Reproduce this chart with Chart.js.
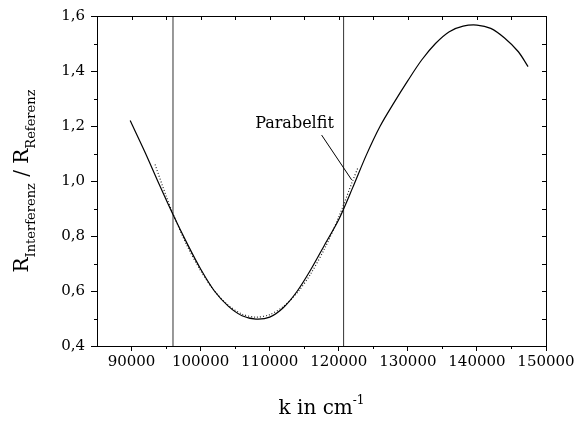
<!DOCTYPE html>
<html>
<head>
<meta charset="utf-8">
<script src="https://cdn.jsdelivr.net/npm/chart.js@4.4.0/dist/chart.umd.min.js"></script>
<style>
    html, body { margin: 0; padding: 0; background: #fff; }
    #wrap { width: 578px; height: 421px; }
</style>
</head>
<body>
<div id="wrap"><canvas id="chart" width="578" height="421"></canvas></div>
<script>
// measured curve R_Interferenz / R_Referenz over k
const kValues = [89800, 92000, 94000, 96000, 98000, 100000, 102000, 104000, 106000, 108000,
    110000, 112000, 114000, 116000, 118000, 120000, 122000, 124000, 126000, 128000,
    130000, 132000, 134000, 136000, 138000, 140000, 142000, 144000, 146000, 147400];
const ratioValues = [1.22, 1.102, 0.988, 0.878, 0.775, 0.68, 0.60, 0.545, 0.51, 0.498,
    0.505, 0.54, 0.60, 0.68, 0.77, 0.86, 0.975, 1.095, 1.20, 1.285,
    1.365, 1.44, 1.50, 1.543, 1.563, 1.567, 1.555, 1.52, 1.47, 1.416];

// parabola fit (dotted)
const fitK = [93400, 95000, 96000, 98000, 100000, 102000, 104000, 106000, 108000,
    110000, 112000, 114000, 116000, 118000, 120000, 122000, 122800];
const fitValues = [1.06, 0.946, 0.881, 0.767, 0.674, 0.60, 0.548, 0.516, 0.505,
    0.514, 0.544, 0.594, 0.665, 0.757, 0.869, 1.0, 1.05];

// fit range borders
const markerK = [96000, 120700];

const xTicks = [90000, 100000, 110000, 120000, 130000, 140000, 150000];
const xMinorTicks = [90000, 95000, 100000, 105000, 110000, 115000, 120000, 125000, 130000, 135000, 140000, 145000];
const yTicks = [0.4, 0.6, 0.8, 1.0, 1.2, 1.4, 1.6];
const yMinorTicks = [0.5, 0.7, 0.9, 1.1, 1.3, 1.5];

// label "Parabelfit" and its pointer, in data coordinates
const fitLabel = { text: 'Parabelfit', k: 113590, v: 1.207 };
const fitPointer = [[117520, 1.167], [121870, 1.004]];

const serif = '"DejaVu Serif", serif';

const curveData = kValues.map((k, i) => ({ x: k, y: ratioValues[i] }));
const fitData = fitK.map((k, i) => ({ x: k, y: fitValues[i] }));

const markerSets = markerK.map(k => ({
    data: [{ x: k, y: 0.4 }, { x: k, y: 1.6 }],
    borderColor: '#333',
    borderWidth: 1,
    pointRadius: 0,
    tension: 0
}));

const extras = {
    id: 'extras',
    afterDraw(chart) {
        const ctx = chart.ctx;
        const a = chart.chartArea;
        const xs = chart.scales.x;
        const ys = chart.scales.y;
        ctx.save();

        // frame
        ctx.strokeStyle = '#000';
        ctx.lineWidth = 1;
        ctx.strokeRect(a.left + 0.5, a.top + 0.5, a.right - a.left, a.bottom - a.top);

        // minor ticks bottom / left, inner ticks top / right
        ctx.beginPath();
        xMinorTicks.forEach(v => {
            const px = Math.round(xs.getPixelForValue(v)) + 0.5;
            if (v % 10000 !== 0) {
                ctx.moveTo(px, a.bottom);
                ctx.lineTo(px, a.bottom + 3);
            }
            ctx.moveTo(px, a.top);
            ctx.lineTo(px, a.top + 4);
        });
        yMinorTicks.forEach(v => {
            const py = Math.round(ys.getPixelForValue(v)) + 0.5;
            ctx.moveTo(a.left, py);
            ctx.lineTo(a.left - 3, py);
        });
        yTicks.concat(yMinorTicks).forEach(v => {
            const py = Math.round(ys.getPixelForValue(v)) + 0.5;
            ctx.moveTo(a.right, py);
            ctx.lineTo(a.right - 4, py);
        });
        ctx.stroke();

        // annotation
        ctx.fillStyle = '#000';
        ctx.font = '16px ' + serif;
        ctx.textAlign = 'center';
        ctx.textBaseline = 'middle';
        ctx.fillText(fitLabel.text, xs.getPixelForValue(fitLabel.k), ys.getPixelForValue(fitLabel.v));
        ctx.beginPath();
        ctx.moveTo(xs.getPixelForValue(fitPointer[0][0]), ys.getPixelForValue(fitPointer[0][1]));
        ctx.lineTo(xs.getPixelForValue(fitPointer[1][0]), ys.getPixelForValue(fitPointer[1][1]));
        ctx.stroke();

        // x title: k in cm^-1
        ctx.textAlign = 'left';
        ctx.textBaseline = 'alphabetic';
        ctx.font = '20px ' + serif;
        const main = 'k in cm';
        const wMain = ctx.measureText(main).width;
        ctx.font = '12px ' + serif;
        const wSup = ctx.measureText('-1').width;
        let x0 = (a.left + a.right) / 2 - (wMain + wSup) / 2;
        const base = 414;
        ctx.font = '20px ' + serif;
        ctx.fillText(main, x0, base);
        ctx.font = '12px ' + serif;
        ctx.fillText('-1', x0 + wMain, base - 10);

        // y title: R_Interferenz / R_Referenz
        const parts = [
            { t: 'R', f: '20px ', dy: 0 },
            { t: 'Interferenz', f: '13px ', dy: 7 },
            { t: ' / ', f: '20px ', dy: 0 },
            { t: 'R', f: '20px ', dy: 0 },
            { t: 'Referenz', f: '13px ', dy: 7 }
        ];
        let total = 0;
        parts.forEach(p => {
            ctx.font = p.f + serif;
            p.w = ctx.measureText(p.t).width;
            total += p.w;
        });
        ctx.translate(28, (a.top + a.bottom) / 2);
        ctx.rotate(-Math.PI / 2);
        let cx = -total / 2;
        parts.forEach(p => {
            ctx.font = p.f + serif;
            ctx.fillText(p.t, cx, p.dy);
            cx += p.w;
        });
        ctx.restore();
    }
};

new Chart(document.getElementById('chart'), {
    type: 'line',
    data: {
        datasets: [
            {
                data: curveData,
                borderColor: '#000',
                borderWidth: 1.2,
                pointRadius: 0,
                tension: 0.3
            },
            {
                data: fitData,
                borderColor: '#222',
                borderWidth: 1.2,
                borderDash: [1, 2],
                pointRadius: 0,
                tension: 0.3
            },
            ...markerSets
        ]
    },
    options: {
        responsive: false,
        animation: false,
        layout: { padding: { top: 16, right: 32, left: 0, bottom: 0 } },
        plugins: {
            legend: { display: false },
            tooltip: { enabled: false }
        },
        scales: {
            x: {
                type: 'linear',
                min: 85000,
                max: 150000,
                afterFit: scale => { scale.height = 75; },
                afterBuildTicks: scale => { scale.ticks = xTicks.map(v => ({ value: v })); },
                grid: { drawOnChartArea: false, tickLength: 5, color: '#000' },
                border: { color: '#000' },
                ticks: {
                    color: '#000',
                    font: { family: serif, size: 15 },
                    padding: 2,
                    maxRotation: 0,
                    callback: v => String(v)
                }
            },
            y: {
                type: 'linear',
                min: 0.4,
                max: 1.6,
                afterFit: scale => { scale.width = 97; },
                afterBuildTicks: scale => { scale.ticks = yTicks.map(v => ({ value: v })); },
                grid: { drawOnChartArea: false, tickLength: 6, color: '#000' },
                border: { color: '#000' },
                ticks: {
                    color: '#000',
                    font: { family: serif, size: 15 },
                    padding: 6,
                    callback: v => v.toFixed(1).replace('.', ',')
                }
            }
        }
    },
    plugins: [extras]
});
</script>
</body>
</html>
